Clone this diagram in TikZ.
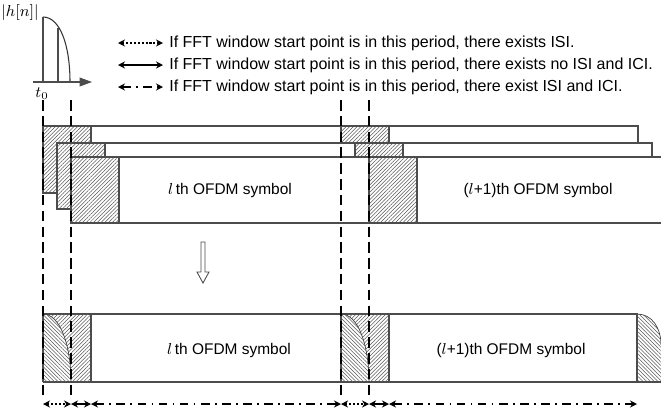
\documentclass[tikz,border=0pt]{standalone}
\usepackage{fontspec}
\setmainfont{Liberation Sans}
\usetikzlibrary{arrows.meta,patterns.meta,positioning}

% one strip of the stacked symbols: name, x start, y top, y bottom, x end
\newcommand{\symrow}[5]{%
    \coordinate (#1-nw) at (#2,#3);%
    \coordinate (#1-se) at (#5,#4);%
    \draw[rowbox] (#1-nw) rectangle (#1-se);%
    \draw[gibox] (#1-nw) rectangle ({#2+48},#4);%
    \draw[gibox] ({#2+298},#3) rectangle ({#2+346},#4);%
}
% guard interval of the lower row with the channel tail: x start
\newcommand{\gitail}[1]{%
    \path[hatchne] (#1,314) .. controls ({#1+17},314) and ({#1+28},345) .. ({#1+28},382)
        -- ({#1+48},382) -- ({#1+48},314) -- cycle;%
    \path[hatchnw] (#1,314) .. controls ({#1+17},314) and ({#1+28},345) .. ({#1+28},382)
        -- (#1,382) -- cycle;%
    \draw[thin, black!75] (#1,314) .. controls ({#1+17},314) and ({#1+28},345) .. ({#1+28},382);%
    \draw[rowline] (#1,314) -- (#1,382);%
    \draw[rowline] ({#1+48},314) -- ({#1+48},382);%
}

\begin{document}
\begin{tikzpicture}[
        x=0.02cm,
        y=-0.02cm,
        font=\fontsize{8.8}{10.5}\selectfont,
        rowline/.style={line width=0.6pt, draw=black!70},
        rowbox/.style={rowline, fill=white},
        hatchne/.style={pattern={Lines[angle=45, distance=1.5pt, line width=0.3pt]}, pattern color=black!65},
        hatchnw/.style={pattern={Lines[angle=-45, distance=1.5pt, line width=0.3pt]}, pattern color=black!65},
        gibox/.style={rowline, hatchne},
        winline/.style={line width=1.4pt, dash pattern=on 6pt off 3pt},
        isi/.style={{Stealth[length=4pt, width=4pt]}-{Stealth[length=4pt, width=4pt]}, dash pattern=on 1.2pt off 1pt},
        clean/.style={{Stealth[length=4pt, width=4pt]}-{Stealth[length=4pt, width=4pt]}},
        both/.style={{Stealth[length=4pt, width=4pt]}-{Stealth[length=4pt, width=4pt]}, dash pattern=on 5pt off 3pt on 1pt off 3pt},
        lbl/.style={anchor=west, inner sep=0pt, font=\fontsize{9.1}{11}\selectfont}
    ]
        \useasboundingbox (0,0) rectangle (661,413);

        % === CHANNEL IMPULSE RESPONSE ===
        \draw[line width=0.6pt, black!70] (43,17) -- (43,82);
        \draw[line width=0.6pt, black!70] (58,28) -- (58,82);
        \draw[line width=0.6pt, black!80] (43,17) .. controls (60,17) and (70,45) .. (70,82);
        \draw[line width=0.6pt, black!70, -{Triangle[length=7pt, width=5pt]}] (33,82) -- (92,82);
        \node[inner sep=0pt] (hn) at (20,13) {$|h[n]|$};
        \node[inner sep=0pt] (t0) at (42,94) {$t_0$};

        % === LEGEND ===
        \coordinate (la1) at (118,43);  \coordinate (lb1) at (163,43);
        \coordinate (la2) at (118,65);  \coordinate (lb2) at (163,65);
        \coordinate (la3) at (118,87);  \coordinate (lb3) at (163,87);
        \draw[isi, line width=0.9pt] (la1) -- (lb1);
        \draw[clean, line width=0.7pt] (la2) -- (lb2);
        \draw[both, line width=1pt] (la3) -- (lb3);
        \node[lbl] (t1) at (169,43) {If FFT window start point is in this period, there exists ISI.};
        \node[lbl] (t2) at (169,65) {If FFT window start point is in this period, there exists no ISI and ICI.};
        \node[lbl] (t3) at (169,87) {If FFT window start point is in this period, there exist ISI and ICI.};

        % === RECEIVED SYMBOLS (three paths) ===
        \symrow{ra}{43}{126}{193}{638}
        \symrow{rb}{57}{143}{209}{652}
        \symrow{rc}{71}{157}{223}{663}
        \node (s1) at (230,190) {$l$\,th OFDM symbol};
        \node (s2) at (538,190) {($l$+1)th OFDM symbol};

        % === DOWN ARROW ===
        \draw[line width=0.5pt, black!70, fill=white]
            (201,242) -- (205,242) -- (205,272) -- (209,272) -- (203,283) -- (197,272) -- (201,272) -- cycle;

        % === SUPERPOSED SYMBOLS ===
        \path[hatchnw] (637,314) .. controls (652,314) and (661,328) .. (661,345) -- (661,382) -- (637,382) -- cycle;
        \draw[thin, black!75] (637,314) .. controls (652,314) and (661,328) .. (661,345);
        \draw[rowline] (43,314) -- (637,314) -- (637,382);
        \draw[rowline] (43,382) -- (662,382);
        \gitail{43}
        \gitail{341}
        \node (s3) at (229,350) {$l$\,th OFDM symbol};
        \node (s4) at (511,350) {($l$+1)th OFDM symbol};

        % === FFT WINDOW LIMITS ===
        \foreach \x/\n in {43/1, 71/2, 341/3, 369/4} {
            \coordinate (d\n-top) at (\x,100);
            \coordinate (d\n-bot) at (\x,398);
            \draw[winline] (d\n-top) -- (d\n-bot);
        }

        % === START POINT PERIODS ===
        \coordinate (p1) at (43,404);
        \coordinate (p2) at (71,404);
        \coordinate (p3) at (91,404);
        \coordinate (p4) at (341,404);
        \coordinate (p5) at (369,404);
        \coordinate (p6) at (389,404);
        \coordinate (p7) at (637,404);
        \draw[isi, line width=1pt] (p1) -- (p2);
        \draw[clean, line width=0.9pt] (p2) -- (p3);
        \draw[both, line width=1pt] (p3) -- (p4);
        \draw[isi, line width=1pt] (p4) -- (p5);
        \draw[clean, line width=0.9pt] (p5) -- (p6);
        \draw[both, line width=1pt] (p6) -- (p7);
    \end{tikzpicture}
\end{document}
